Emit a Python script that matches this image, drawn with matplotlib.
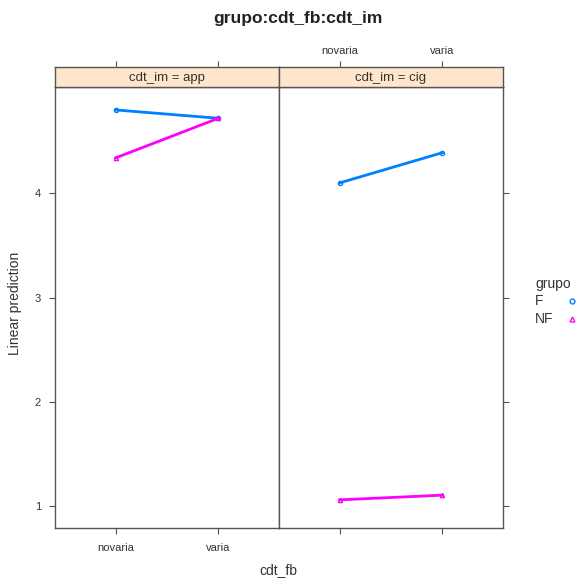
import matplotlib
matplotlib.use("Agg")
import matplotlib.pyplot as plt

plt.rcParams['font.family'] = ['Liberation Sans', 'DejaVu Sans']

panels = ["app", "cig"]
categories = ["novaria", "varia"]
groups = ["F", "NF"]
values = {
    "app": {"F": [4.80, 4.72], "NF": [4.34, 4.72]},
    "cig": {"F": [4.10, 4.39], "NF": [1.06, 1.105]},
}
yticks = [1, 2, 3, 4]
colors = {"F": "#0080ff", "NF": "#ff00ff"}
markers = {"F": "o", "NF": "^"}

W, H = 578, 586
fig = plt.figure(figsize=(W / 100, H / 100), dpi=100)

def fx(px):
    return px / W

def fy(py):
    return 1 - py / H

left, mid, right = 55, 279, 503
top, bottom = 87, 528
strip_top = 67
edge = "#555555"
txt = "#333333"
xs = [1, 2]

for i, p in enumerate(panels):
    x0 = [left, mid][i]
    x1 = [mid, right][i]
    ax = fig.add_axes([fx(x0), fy(bottom), fx(x1 - x0), (bottom - top) / H])
    for g in groups:
        ax.plot(xs, values[p][g], color=colors[g], lw=2, marker=markers[g],
                ms=3, mfc='none', mec=colors[g], mew=1)
    ax.set_xlim(0.41, 2.59)
    ax.set_ylim(0.79, 5.02)
    for s in ax.spines.values():
        s.set_color(edge)
        s.set_linewidth(1)
    ax.set_xticks(xs)
    ax.set_yticks(yticks)
    ax.tick_params(direction='out', length=4, width=0.8, color=edge,
                   labelsize=8, labelcolor=txt, pad=7)
    if i == 0:
        ax.set_xticklabels(categories)
        ax.tick_params(axis='y', left=True, right=False, labelleft=True, pad=6)
    else:
        ax.set_xticklabels([])
        ax.tick_params(axis='y', left=False, right=True, labelleft=False)

    # strip
    sax = fig.add_axes([fx(x0), fy(top), fx(x1 - x0), (top - strip_top) / H])
    sax.set_xlim(0.41, 2.59)
    sax.set_ylim(0, 1)
    sax.set_facecolor('#ffe5cc')
    for s in sax.spines.values():
        s.set_color(edge)
        s.set_linewidth(1)
    sax.set_yticks([])
    sax.set_xticks(xs)
    sax.xaxis.tick_top()
    sax.tick_params(axis='x', direction='out', length=4, width=0.8, color=edge,
                    labelsize=8, labelcolor=txt, pad=4)
    if i == 1:
        sax.set_xticklabels(categories)
    else:
        sax.set_xticklabels([])
    sax.text(0.5, 0.45, f"cdt_im = {p}", transform=sax.transAxes,
             ha='center', va='center', fontsize=9.5, color=txt)

fig.text(fx(298), fy(18), "grupo:cdt_fb:cdt_im", ha='center', va='center',
         fontsize=12.5, fontweight='bold', color='#222222')
fig.text(fx(278), fy(570), "cdt_fb", ha='center', va='center',
         fontsize=10, color=txt)
fig.text(fx(15), fy(303), "Linear prediction", ha='center', va='center',
         rotation=90, fontsize=10, color=txt)

# legend
fig.text(fx(535), fy(284), "grupo", ha='left', va='center', fontsize=10, color=txt)
for k, g in enumerate(groups):
    yy = 301 + 18 * k
    fig.text(fx(535), fy(yy), g, ha='left', va='center', fontsize=10, color=txt)
    fig.lines.append(matplotlib.lines.Line2D([fx(572)], [fy(yy)], transform=fig.transFigure,
                     marker=markers[g], ms=3.5, mfc='none', mec=colors[g], mew=1, ls='none'))

fig.savefig("out.png", dpi=100)
